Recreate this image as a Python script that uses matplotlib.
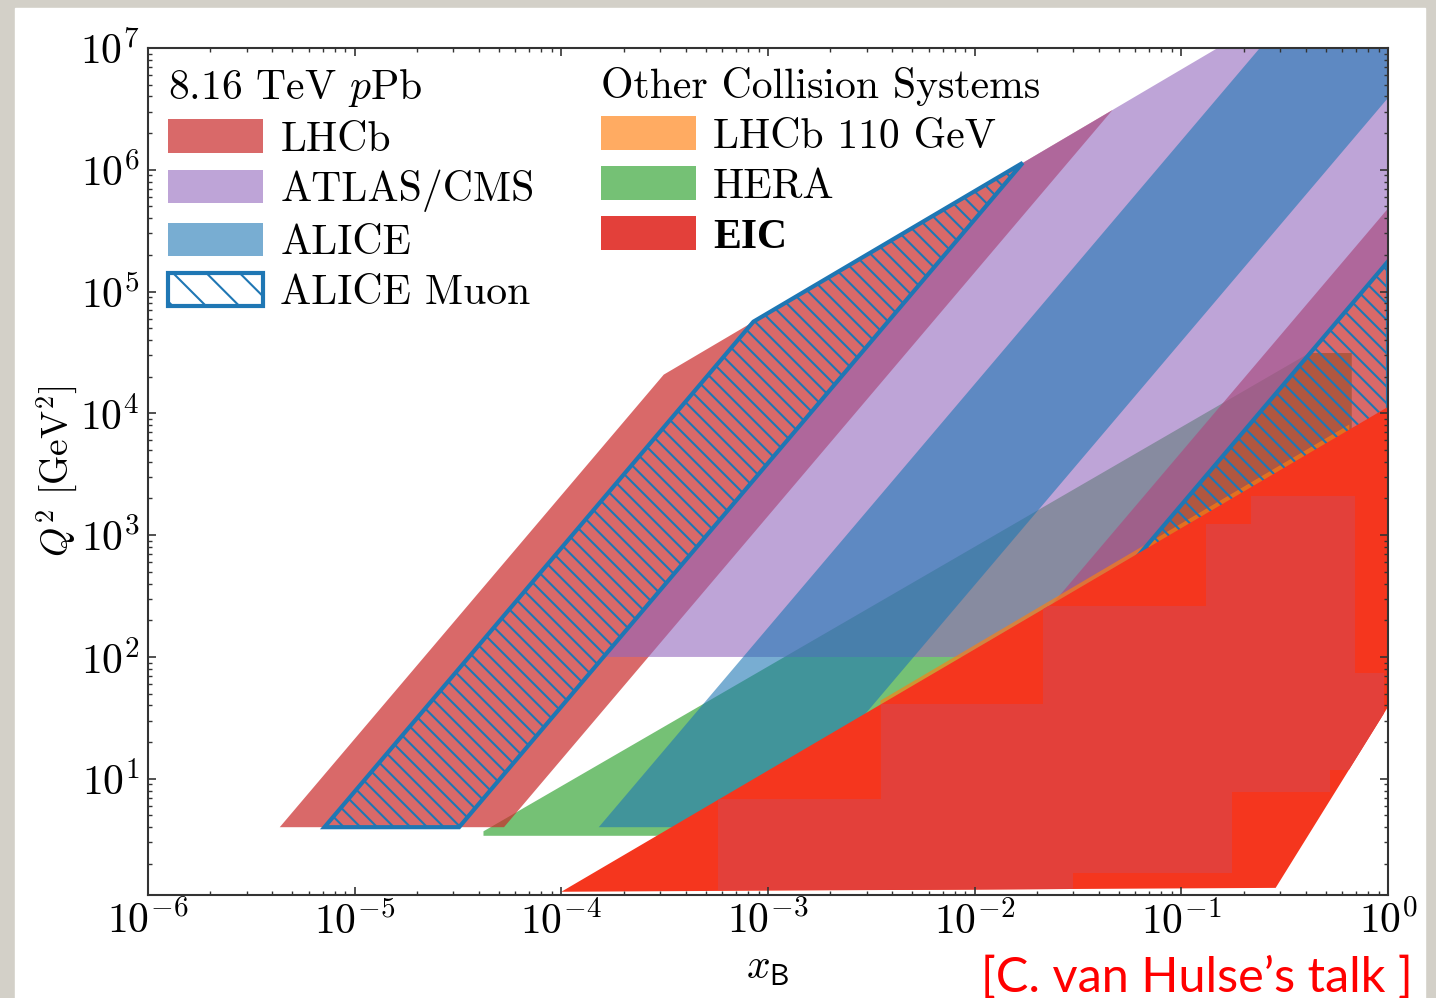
import matplotlib
matplotlib.use('Agg')
import matplotlib.pyplot as plt
from matplotlib.patches import Polygon, Patch, Rectangle

plt.rcParams['font.family'] = 'serif'
plt.rcParams['font.serif'] = ['cmr10']
plt.rcParams['mathtext.fontset'] = 'cm'
plt.rcParams['axes.formatter.use_mathtext'] = True
plt.rcParams['hatch.linewidth'] = 1.5

# band outlines as (x_B, Q^2) vertices
lhcb_fwd_x = [4.34e-6, 5.28e-5, 0.0464, 3.13e-4]
lhcb_fwd_q2 = [4, 4, 3.09e6, 2.08e4]
lhcb_bwd_x = [2.88e-3, 0.0351, 1.0, 1.0]
lhcb_bwd_q2 = [4, 4, 3.24e3, 4.81e5]
atlas_x = [1.60e-4, 0.02377, 1.0, 1.0, 0.01708]
atlas_q2 = [100, 100, 1.77e5, 6.66e7, 1.14e6]
alice_x = [1.517e-4, 1.014e-3, 1.0, 1.0, 0.383]
alice_q2 = [4, 4, 3.89e6, 6.66e7, 2.55e7]
muon_fwd_x = [7.14e-6, 3.20e-5, 0.01708, 8.50e-4]
muon_fwd_q2 = [4, 4, 1.14e6, 5.66e4]
muon_bwd_x = [4.75e-3, 0.0213, 1.0, 1.0]
muon_bwd_q2 = [4, 4, 8.81e3, 1.77e5]
hera_x = [4.2e-5, 4.2e-5, 0.416, 0.668, 0.668, 5.0e-4]
hera_q2 = [3.4, 3.7, 3.13e4, 3.13e4, 100, 3.4]
lhcb110_x = [3.5e-3, 0.65, 0.65, 3.5e-3]
lhcb110_q2 = [43.8, 8.1e3, 6.5e3, 35]
eic_x = [1.0e-4, 1.0, 1.0, 0.286]
eic_q2 = [1.18, 1.13e4, 38.9, 1.27]
# inner EIC bins (staircase)
eic_bins_x = [5.73e-4, 5.73e-4, 3.52e-3, 3.52e-3, 0.0214, 0.0214, 0.1315, 0.1315,
              0.2168, 0.2168, 0.690, 0.690, 0.955, 0.955, 0.522, 0.522,
              0.1754, 0.1754, 0.0299, 0.0299]
eic_bins_q2 = [1.22, 6.82, 6.82, 41.1, 41.1, 262, 262, 1236,
               1236, 2099, 2099, 73.9, 73.9, 11.8, 11.8, 7.80,
               7.80, 1.69, 1.69, 1.22]

c_lhcb = '#ca2a2a'
c_atlas = '#9467bd'
c_alice = '#1f77b4'
c_hera = '#2ca02c'
c_110 = '#ff7f0e'
c_eic = '#f5361e'
c_eic_bins = '#e3403a'

fig = plt.figure(figsize=(14.36, 9.98), dpi=100, facecolor='#d3d0c8')
fig.add_artist(Rectangle((15 / 1436, 0), 1410 / 1436, 990 / 998,
                         transform=fig.transFigure, color='white', zorder=-10))
ax = fig.add_axes([148 / 1436, 103 / 998, 1240 / 1436, 847 / 998])


def band(xs, qs, **kw):
    p = Polygon(list(zip(xs, qs)), closed=True, linewidth=0, **kw)
    ax.add_patch(p)
    return p


band(hera_x, hera_q2, facecolor=c_hera, alpha=0.65)
band(lhcb_fwd_x, lhcb_fwd_q2, facecolor=c_lhcb, alpha=0.7)
band(lhcb_bwd_x, lhcb_bwd_q2, facecolor=c_lhcb, alpha=0.7)
band(atlas_x, atlas_q2, facecolor=c_atlas, alpha=0.6)
band(alice_x, alice_q2, facecolor=c_alice, alpha=0.6)
band(lhcb110_x, lhcb110_q2, facecolor=c_110, alpha=0.65)
for xs, qs in [(muon_fwd_x, muon_fwd_q2), (muon_bwd_x, muon_bwd_q2)]:
    m = Polygon(list(zip(xs, qs)), closed=True, facecolor='none',
                edgecolor=c_alice, linewidth=3, hatch='\\\\')
    ax.add_patch(m)
eic = band(eic_x, eic_q2, facecolor=c_eic)
bins = band(eic_bins_x, eic_bins_q2, facecolor=c_eic_bins)
bins.set_clip_path(eic)

ax.set_xscale('log')
ax.set_yscale('log')
ax.set_xlim(1e-6, 1)
ax.set_ylim(1.11, 1e7)
for s in ax.spines.values():
    s.set_linewidth(1.5)
    s.set_color('#333333')
ax.tick_params(which='both', direction='in', top=True, right=True,
               labelsize=30, color='#333333')
ax.tick_params(axis='y', which='major', length=6, width=1.2, pad=6)
ax.tick_params(axis='x', which='major', length=6, width=1.2, pad=4)
ax.tick_params(which='minor', length=3, width=1)
ax.set_xlabel(r'$x_{\mathsf{B}}$', fontsize=30, labelpad=6)
ax.set_ylabel(r'$Q^2$ [GeV$^2$]', fontsize=27, labelpad=0)

leg_kw = dict(title_fontsize=30, fontsize=30, loc='upper left', frameon=False,
              alignment='left', handlelength=2.28, handleheight=0.86,
              handletextpad=0.42, labelspacing=0.26, borderaxespad=0,
              borderpad=0)

h1 = [Patch(facecolor=c_lhcb, alpha=0.7, linewidth=0),
      Patch(facecolor=c_atlas, alpha=0.6, linewidth=0),
      Patch(facecolor=c_alice, alpha=0.6, linewidth=0),
      Patch(facecolor='white', edgecolor=c_alice, linewidth=3, hatch='\\')]
leg1 = ax.legend(h1, ['LHCb', 'ATLAS/CMS', 'ALICE', 'ALICE Muon'],
                 title='8.16 TeV $p$Pb', bbox_to_anchor=(0.016, 0.978), **leg_kw)
ax.add_artist(leg1)

h2 = [Patch(facecolor=c_110, alpha=0.65, linewidth=0),
      Patch(facecolor=c_hera, alpha=0.65, linewidth=0),
      Patch(facecolor=c_eic_bins, linewidth=0)]
leg2 = ax.legend(h2, ['LHCb 110 GeV', 'HERA', 'EIC'],
                 title='Other Collision Systems', bbox_to_anchor=(0.365, 0.978),
                 **leg_kw)
leg2.get_texts()[2].set_fontfamily('Liberation Serif')
leg2.get_texts()[2].set_fontweight('bold')

fig.text(1413 / 1436, 6 / 998, '[C. van Hulse\u2019s talk ]', color='red',
         fontsize=35, family='Lato', ha='right', va='baseline')

fig.savefig('out.png', dpi=100, facecolor=fig.get_facecolor())
